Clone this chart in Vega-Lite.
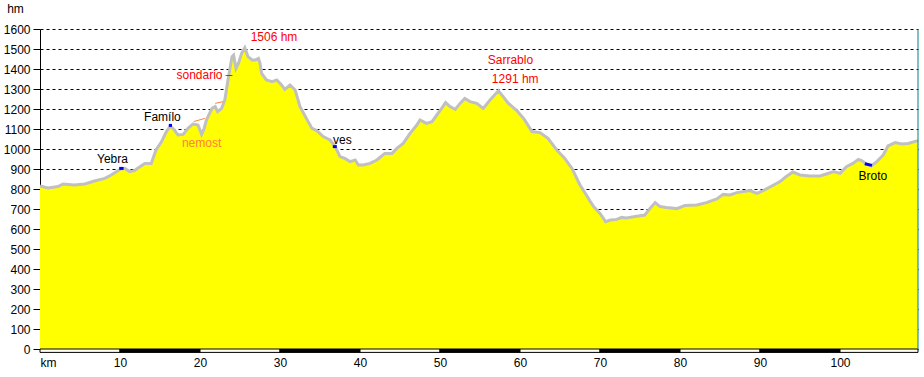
{
  "$schema": "https://vega.github.io/schema/vega-lite/v6.json",
  "width": 878,
  "height": 320,
  "autosize": {"type": "none"},
  "padding": {"left": 40, "top": 29, "right": 6, "bottom": 28},
  "background": "white",
  "config": {
    "view": {"stroke": null},
    "font": "Liberation Sans",
    "text": {"font": "Liberation Sans", "fontSize": 12},
    "axisX": {
      "ticks": false, "domain": false, "grid": false,
      "labelFontSize": 12, "labelFont": "Liberation Sans", "labelColor": "black",
      "labelPadding": 8, "labelBaseline": "top", "labelFlush": false, "labelOverlap": false
    },
    "axisY": {
      "titleAngle": 0, "titleX": -25, "titleY": -21,
      "titleAlign": "center", "titleBaseline": "middle",
      "titleFontSize": 12, "titleFontWeight": "normal", "titleFont": "Liberation Sans", "titleColor": "black",
      "labelFontSize": 12, "labelFont": "Liberation Sans", "labelColor": "black",
      "labelPadding": 3, "tickSize": 7, "tickColor": "black", "domainColor": "black",
      "grid": true, "gridColor": "black", "gridDash": [3, 3], "gridWidth": 1, "gridOpacity": 1,
      "labelFlush": false, "labelOverlap": false, "zindex": 1
    }
  },
  "datasets": {
    "profile": [
      {"km": 0, "elev": 815}, {"km": 1, "elev": 805}, {"km": 2.25, "elev": 812}, {"km": 2.9, "elev": 825},
      {"km": 4.3, "elev": 820}, {"km": 5.6, "elev": 825}, {"km": 6.8, "elev": 840}, {"km": 8.1, "elev": 853},
      {"km": 8.9, "elev": 870}, {"km": 10, "elev": 898}, {"km": 10.6, "elev": 903}, {"km": 11.2, "elev": 887},
      {"km": 11.8, "elev": 892}, {"km": 12.25, "elev": 905}, {"km": 13.1, "elev": 928}, {"km": 13.9, "elev": 928},
      {"km": 14.5, "elev": 995}, {"km": 15.2, "elev": 1037}, {"km": 15.8, "elev": 1087}, {"km": 16.3, "elev": 1115},
      {"km": 16.8, "elev": 1095}, {"km": 17.25, "elev": 1070}, {"km": 17.9, "elev": 1073}, {"km": 18.5, "elev": 1103},
      {"km": 19.1, "elev": 1125}, {"km": 19.75, "elev": 1120}, {"km": 20.2, "elev": 1073}, {"km": 20.5, "elev": 1100},
      {"km": 20.8, "elev": 1145}, {"km": 21.5, "elev": 1203}, {"km": 21.9, "elev": 1212}, {"km": 22.2, "elev": 1187},
      {"km": 22.7, "elev": 1203}, {"km": 23.1, "elev": 1245}, {"km": 23.5, "elev": 1345}, {"km": 24, "elev": 1462},
      {"km": 24.2, "elev": 1470}, {"km": 24.5, "elev": 1403}, {"km": 24.8, "elev": 1428}, {"km": 25.2, "elev": 1478},
      {"km": 25.6, "elev": 1506}, {"km": 26, "elev": 1462}, {"km": 26.5, "elev": 1445}, {"km": 26.9, "elev": 1445},
      {"km": 27.3, "elev": 1453}, {"km": 27.5, "elev": 1430}, {"km": 27.7, "elev": 1378}, {"km": 28.3, "elev": 1345},
      {"km": 29, "elev": 1337}, {"km": 29.6, "elev": 1345}, {"km": 30.2, "elev": 1320}, {"km": 30.6, "elev": 1298},
      {"km": 31.25, "elev": 1320}, {"km": 31.9, "elev": 1295}, {"km": 32.5, "elev": 1212}, {"km": 33.3, "elev": 1153},
      {"km": 34, "elev": 1103}, {"km": 34.6, "elev": 1092}, {"km": 35.4, "elev": 1062}, {"km": 36.25, "elev": 1045},
      {"km": 36.9, "elev": 1012}, {"km": 37.5, "elev": 962}, {"km": 38.1, "elev": 953}, {"km": 38.75, "elev": 937},
      {"km": 39.4, "elev": 945}, {"km": 39.8, "elev": 920}, {"km": 40.4, "elev": 920}, {"km": 41.25, "elev": 928},
      {"km": 42.1, "elev": 945}, {"km": 43.1, "elev": 978}, {"km": 44, "elev": 978}, {"km": 44.6, "elev": 1003},
      {"km": 45.4, "elev": 1028}, {"km": 46.25, "elev": 1078}, {"km": 47.1, "elev": 1120}, {"km": 47.5, "elev": 1145},
      {"km": 47.9, "elev": 1137}, {"km": 48.3, "elev": 1128}, {"km": 49, "elev": 1137}, {"km": 49.6, "elev": 1170},
      {"km": 50.2, "elev": 1203}, {"km": 50.7, "elev": 1232}, {"km": 51.25, "elev": 1212}, {"km": 51.9, "elev": 1198},
      {"km": 52.5, "elev": 1228}, {"km": 53.1, "elev": 1253}, {"km": 53.75, "elev": 1237}, {"km": 54.6, "elev": 1228},
      {"km": 55.4, "elev": 1203}, {"km": 56.25, "elev": 1245}, {"km": 57.3, "elev": 1291}, {"km": 57.9, "elev": 1262},
      {"km": 58.5, "elev": 1230}, {"km": 59.6, "elev": 1192}, {"km": 60.5, "elev": 1150}, {"km": 61.25, "elev": 1103},
      {"km": 61.5, "elev": 1087}, {"km": 62.5, "elev": 1082}, {"km": 63.5, "elev": 1053}, {"km": 64.6, "elev": 995},
      {"km": 65.6, "elev": 953}, {"km": 66.5, "elev": 903}, {"km": 67.5, "elev": 820}, {"km": 68.3, "elev": 770},
      {"km": 68.75, "elev": 740}, {"km": 69.2, "elev": 712}, {"km": 69.6, "elev": 695}, {"km": 70, "elev": 678},
      {"km": 70.7, "elev": 637}, {"km": 71.3, "elev": 645}, {"km": 72.1, "elev": 648}, {"km": 72.7, "elev": 658},
      {"km": 73.3, "elev": 655}, {"km": 74.4, "elev": 662}, {"km": 75.6, "elev": 670}, {"km": 76.25, "elev": 703},
      {"km": 76.9, "elev": 732}, {"km": 77.5, "elev": 712}, {"km": 78.3, "elev": 707}, {"km": 79.6, "elev": 702},
      {"km": 80.6, "elev": 717}, {"km": 82.1, "elev": 720}, {"km": 83.3, "elev": 732}, {"km": 84.6, "elev": 750},
      {"km": 85.4, "elev": 773}, {"km": 86.25, "elev": 770}, {"km": 87.1, "elev": 782}, {"km": 88.75, "elev": 792},
      {"km": 89.6, "elev": 778}, {"km": 90.4, "elev": 792}, {"km": 91.7, "elev": 820}, {"km": 92.5, "elev": 837},
      {"km": 93.2, "elev": 860}, {"km": 94.1, "elev": 885}, {"km": 95, "elev": 870}, {"km": 96.25, "elev": 865},
      {"km": 97.5, "elev": 865}, {"km": 98.3, "elev": 875}, {"km": 99.2, "elev": 887}, {"km": 100, "elev": 878},
      {"km": 100.8, "elev": 912}, {"km": 101.6, "elev": 928}, {"km": 102.3, "elev": 948}, {"km": 102.7, "elev": 942},
      {"km": 103.3, "elev": 925}, {"km": 103.9, "elev": 915}, {"km": 104.6, "elev": 937}, {"km": 105.4, "elev": 970},
      {"km": 106, "elev": 1015}, {"km": 106.9, "elev": 1032}, {"km": 107.7, "elev": 1025}, {"km": 108.5, "elev": 1028},
      {"km": 109.75, "elev": 1042}
    ],
    "labels": [
      {"km": 29.25, "elev": 1560, "text": "1506 hm", "kind": "peak"},
      {"km": 20.56, "elev": 1368, "text": "sondario –", "kind": "peak"},
      {"km": 20.2, "elev": 1032, "text": "nemost", "kind": "pass"},
      {"km": 15.3, "elev": 1160, "text": "Famílo", "kind": "place"},
      {"km": 9.06, "elev": 950, "text": "Yebra", "kind": "place"},
      {"km": 37.8, "elev": 1045, "text": "ves", "kind": "place"},
      {"km": 58.8, "elev": 1445, "text": "Sarrablo", "kind": "peak"},
      {"km": 59.4, "elev": 1350, "text": "1291 hm", "kind": "peak"},
      {"km": 104.1, "elev": 865, "text": "Broto", "kind": "place"}
    ],
    "segs": [
      {"km": 19.2, "elev": 1137, "km2": 20.6, "elev2": 1153},
      {"km": 21.9, "elev": 1228, "km2": 22.9, "elev2": 1237}
    ],
    "markers": [
      {"km": 9.9, "elev": 903, "km2": 10.45, "elev2": 903},
      {"km": 16.1, "elev": 1118, "km2": 16.5, "elev2": 1118},
      {"km": 36.6, "elev": 1012, "km2": 37.1, "elev2": 1012},
      {"km": 103.1, "elev": 926, "km2": 104.0, "elev2": 918}
    ],
    "bar": [
      {"from": 0, "to": 10, "shade": "w"}, {"from": 10, "to": 20, "shade": "b"},
      {"from": 20, "to": 30, "shade": "w"}, {"from": 30, "to": 40, "shade": "b"},
      {"from": 40, "to": 50, "shade": "w"}, {"from": 50, "to": 60, "shade": "b"},
      {"from": 60, "to": 70, "shade": "w"}, {"from": 70, "to": 80, "shade": "b"},
      {"from": 80, "to": 90, "shade": "w"}, {"from": 90, "to": 100, "shade": "b"},
      {"from": 100, "to": 109.75, "shade": "w"}
    ]
  },
  "layer": [
    {
      "data": {"name": "profile"},
      "mark": {"type": "area", "color": "#FFFF00", "interpolate": "linear"},
      "encoding": {
        "x": {
          "field": "km", "type": "quantitative", "title": null,
          "scale": {"domain": [0, 109.75], "nice": false, "zero": false},
          "axis": {
            "values": [0, 10, 20, 30, 40, 50, 60, 70, 80, 90, 100],
            "labelExpr": "datum.value == 0 ? 'km' : datum.label",
            "labelAlign": {"condition": {"test": "datum.value == 0", "value": "left"}, "value": "center"}
          }
        },
        "y": {
          "field": "elev", "type": "quantitative", "title": "hm",
          "scale": {"domain": [0, 1600], "nice": false},
          "axis": {"values": [0, 100, 200, 300, 400, 500, 600, 700, 800, 900, 1000, 1100, 1200, 1300, 1400, 1500, 1600], "format": "d"}
        }
      }
    },
    {
      "data": {"name": "profile"},
      "mark": {"type": "line", "color": "#C0C0C0", "strokeWidth": 3, "interpolate": "linear"},
      "encoding": {
        "x": {"field": "km", "type": "quantitative", "title": null,
          "axis": {
            "values": [0, 10, 20, 30, 40, 50, 60, 70, 80, 90, 100],
            "labelExpr": "datum.value == 0 ? 'km' : datum.label",
            "labelAlign": {"condition": {"test": "datum.value == 0", "value": "left"}, "value": "center"}
          }},
        "y": {"field": "elev", "type": "quantitative", "title": "hm",
          "axis": {"values": [0, 100, 200, 300, 400, 500, 600, 700, 800, 900, 1000, 1100, 1200, 1300, 1400, 1500, 1600], "format": "d"}}
      }
    },
    {
      "data": {"name": "segs"},
      "mark": {"type": "rule", "color": "#FF8040", "strokeWidth": 1},
      "encoding": {
        "x": {"field": "km", "type": "quantitative", "title": null,
          "axis": {
            "values": [0, 10, 20, 30, 40, 50, 60, 70, 80, 90, 100],
            "labelExpr": "datum.value == 0 ? 'km' : datum.label",
            "labelAlign": {"condition": {"test": "datum.value == 0", "value": "left"}, "value": "center"}
          }},
        "y": {"field": "elev", "type": "quantitative", "title": "hm",
          "axis": {"values": [0, 100, 200, 300, 400, 500, 600, 700, 800, 900, 1000, 1100, 1200, 1300, 1400, 1500, 1600], "format": "d"}},
        "x2": {"field": "km2"},
        "y2": {"field": "elev2"}
      }
    },
    {
      "data": {"name": "markers"},
      "mark": {"type": "rule", "color": "#0000FF", "strokeWidth": 3},
      "encoding": {
        "x": {"field": "km", "type": "quantitative", "title": null,
          "axis": {
            "values": [0, 10, 20, 30, 40, 50, 60, 70, 80, 90, 100],
            "labelExpr": "datum.value == 0 ? 'km' : datum.label",
            "labelAlign": {"condition": {"test": "datum.value == 0", "value": "left"}, "value": "center"}
          }},
        "y": {"field": "elev", "type": "quantitative", "title": "hm",
          "axis": {"values": [0, 100, 200, 300, 400, 500, 600, 700, 800, 900, 1000, 1100, 1200, 1300, 1400, 1500, 1600], "format": "d"}},
        "x2": {"field": "km2"},
        "y2": {"field": "elev2"}
      }
    },
    {
      "data": {"name": "labels"},
      "mark": {"type": "text", "align": "center", "baseline": "middle", "fontSize": 12, "font": "Liberation Sans"},
      "encoding": {
        "x": {"field": "km", "type": "quantitative", "title": null,
          "axis": {
            "values": [0, 10, 20, 30, 40, 50, 60, 70, 80, 90, 100],
            "labelExpr": "datum.value == 0 ? 'km' : datum.label",
            "labelAlign": {"condition": {"test": "datum.value == 0", "value": "left"}, "value": "center"}
          }},
        "y": {"field": "elev", "type": "quantitative", "title": "hm",
          "axis": {"values": [0, 100, 200, 300, 400, 500, 600, 700, 800, 900, 1000, 1100, 1200, 1300, 1400, 1500, 1600], "format": "d"}},
        "text": {"field": "text"},
        "color": {
          "field": "kind", "type": "nominal",
          "scale": {"domain": ["place", "peak", "pass"], "range": ["#000000", "#FF0000", "#FF8040"]},
          "legend": null
        }
      }
    },
    {
      "data": {"name": "bar"},
      "mark": {"type": "rect", "stroke": "black", "strokeWidth": 1},
      "encoding": {
        "x": {"field": "from", "type": "quantitative", "title": null,
          "axis": {
            "values": [0, 10, 20, 30, 40, 50, 60, 70, 80, 90, 100],
            "labelExpr": "datum.value == 0 ? 'km' : datum.label",
            "labelAlign": {"condition": {"test": "datum.value == 0", "value": "left"}, "value": "center"}
          }},
        "x2": {"field": "to"},
        "y": {"datum": 0, "type": "quantitative", "title": "hm",
          "axis": {"values": [0, 100, 200, 300, 400, 500, 600, 700, 800, 900, 1000, 1100, 1200, 1300, 1400, 1500, 1600], "format": "d"}},
        "y2": {"datum": -17},
        "fill": {
          "field": "shade", "type": "nominal",
          "scale": {"domain": ["w", "b"], "range": ["#FFFFFF", "#000000"]},
          "legend": null
        }
      }
    },
    {
      "data": {"values": [{"edge": 109.75}]},
      "mark": {"type": "rule", "color": "#008080", "strokeWidth": 1},
      "encoding": {
        "x": {"field": "edge", "type": "quantitative", "title": null,
          "axis": {
            "values": [0, 10, 20, 30, 40, 50, 60, 70, 80, 90, 100],
            "labelExpr": "datum.value == 0 ? 'km' : datum.label",
            "labelAlign": {"condition": {"test": "datum.value == 0", "value": "left"}, "value": "center"}
          }}
      }
    }
  ]
}
